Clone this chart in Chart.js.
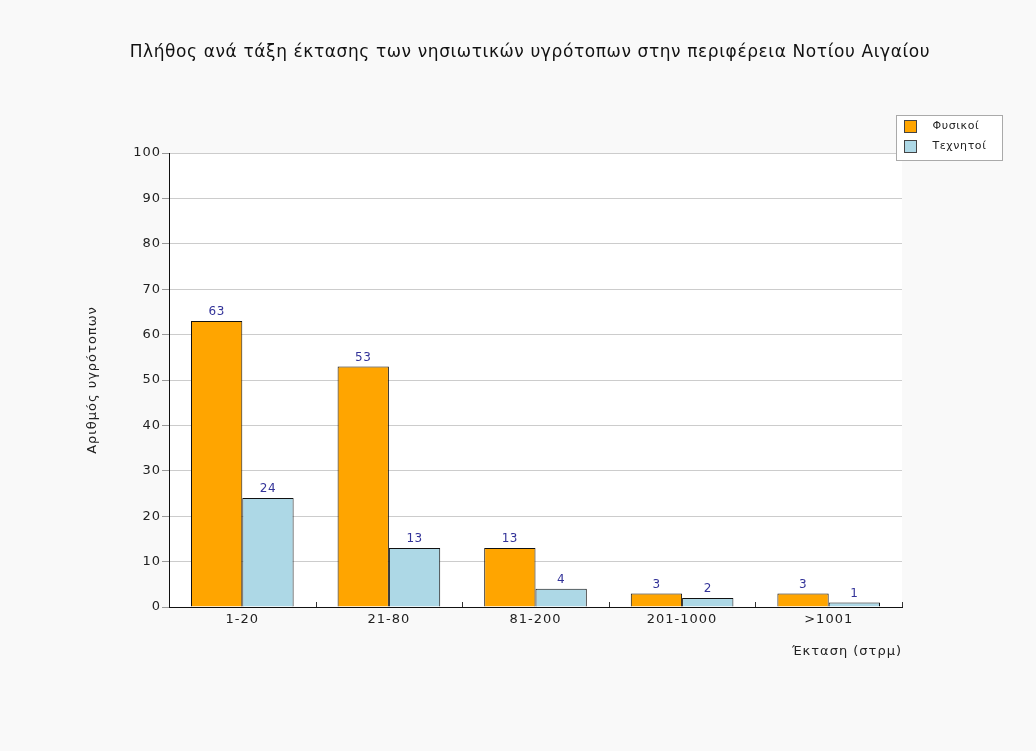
<!DOCTYPE html>
<html>
<head>
<meta charset="utf-8">
<script src="https://cdn.jsdelivr.net/npm/chart.js@4"></script>
<style>
  body { margin: 0; background: #f9f9f9; }
  #wrap { width: 1036px; height: 751px; }
</style>
</head>
<body>
<div id="wrap"><canvas id="myChart"></canvas></div>
<script>
var categories = ["1-20", "21-80", "81-200", "201-1000", ">1001"];
var natural = [63, 53, 13, 3, 3];
var artificial = [24, 13, 4, 2, 1];
var seriesNames = ["Φυσικοί", "Τεχνητοί"];
var yTicks = [0, 10, 20, 30, 40, 50, 60, 70, 80, 90, 100];

var titleText = "Πλήθος ανά τάξη έκτασης των νησιωτικών υγρότοπων στην περιφέρεια Νοτίου Αιγαίου";
var fontName = "'DejaVu Sans', Verdana, sans-serif";

// background, title, value labels, inner x ticks, legend box
var extras = {
  id: 'extras',
  beforeDraw: function(chart) {
    var c = chart.ctx, a = chart.chartArea;
    c.save();
    c.fillStyle = '#f9f9f9';
    c.fillRect(0, 0, chart.width, chart.height);
    c.fillStyle = '#ffffff';
    c.fillRect(a.left, a.top, a.right - a.left, a.bottom - a.top);
    c.restore();
    // source text is a bit wider than DejaVu
    c.letterSpacing = '1px';
  },
  afterDraw: function(chart) {
    var c = chart.ctx, a = chart.chartArea;
    c.save();
    c.fillStyle = '#111';
    c.font = '17px ' + fontName;
    c.letterSpacing = '0.6px';
    c.textAlign = 'center';
    c.textBaseline = 'middle';
    c.fillText(titleText, 530, 53);

    // value labels
    c.letterSpacing = '0.5px';
    c.font = '12px ' + fontName;
    c.fillStyle = '#333399';
    c.textBaseline = 'bottom';
    chart.data.datasets.forEach(function(ds, i) {
      chart.getDatasetMeta(i).data.forEach(function(bar, j) {
        c.fillText(ds.data[j], bar.x, bar.y - 3);
      });
    });

    // x tick marks between categories, pointing up
    var x = chart.scales.x;
    var step = (a.right - a.left) / categories.length;
    c.strokeStyle = '#333';
    c.lineWidth = 1;
    for (var k = 1; k <= categories.length; k++) {
      var px = Math.round(x.getPixelForValue(k - 1) + step / 2) + 0.5;
      c.beginPath();
      c.moveTo(px, a.bottom);
      c.lineTo(px, a.bottom - 5);
      c.stroke();
    }

    // legend
    var lx = 896.5, ly = 115.5;
    c.fillStyle = '#ffffff';
    c.fillRect(lx, ly, 106, 45);
    c.strokeStyle = '#aaa';
    c.strokeRect(lx, ly, 106, 45);
    c.font = '11px ' + fontName;
    c.letterSpacing = '0.6px';
    c.textAlign = 'left';
    c.textBaseline = 'middle';
    chart.data.datasets.forEach(function(ds, i) {
      var yy = ly + 11 + i * 20;
      c.fillStyle = ds.backgroundColor;
      c.fillRect(lx + 8, yy - 6, 12, 12);
      c.strokeStyle = '#444';
      c.strokeRect(lx + 8, yy - 6, 12, 12);
      c.fillStyle = '#222';
      c.fillText(ds.label, lx + 36, yy);
    });
    c.restore();
  }
};

new Chart(document.getElementById("myChart"), {
  type: 'bar',
  data: {
    labels: categories,
    datasets: [
      { label: seriesNames[0], data: natural, backgroundColor: '#ffa500', borderColor: '#111', borderWidth: 1 },
      { label: seriesNames[1], data: artificial, backgroundColor: '#add8e6', borderColor: '#111', borderWidth: 1 }
    ]
  },
  options: {
    responsive: true,
    maintainAspectRatio: false,
    animation: false,
    layout: { padding: { top: 153, right: 134, bottom: 0, left: 0 } },
    plugins: { legend: { display: false }, title: { display: false }, tooltip: { enabled: false } },
    datasets: { bar: { categoryPercentage: 0.7, barPercentage: 1.0 } },
    scales: {
      x: {
        grid: { display: false },
        border: { color: '#111' },
        ticks: { color: '#222', font: { family: fontName, size: 13 }, padding: -3 },
        title: { display: true, text: 'Έκταση (στρμ)', align: 'end', color: '#222',
                 font: { family: fontName, size: 13 }, padding: { top: 0, bottom: 92 } },
        afterFit: function(s) { s.height = 144; }
      },
      y: {
        min: 0, max: 100,
        afterBuildTicks: function(s) { s.ticks = yTicks.map(function(v) { return { value: v }; }); },
        grid: { color: '#cccccc', tickColor: '#999', tickLength: 7 },
        border: { color: '#111' },
        ticks: { color: '#222', font: { family: fontName, size: 13 }, padding: 1 },
        title: { display: true, text: 'Αριθμός υγρότοπων', color: '#222',
                 font: { family: fontName, size: 13 }, padding: { top: 85, bottom: 0 } },
        afterFit: function(s) { s.width = 169; }
      }
    }
  },
  plugins: [extras]
});
</script>
</body>
</html>
